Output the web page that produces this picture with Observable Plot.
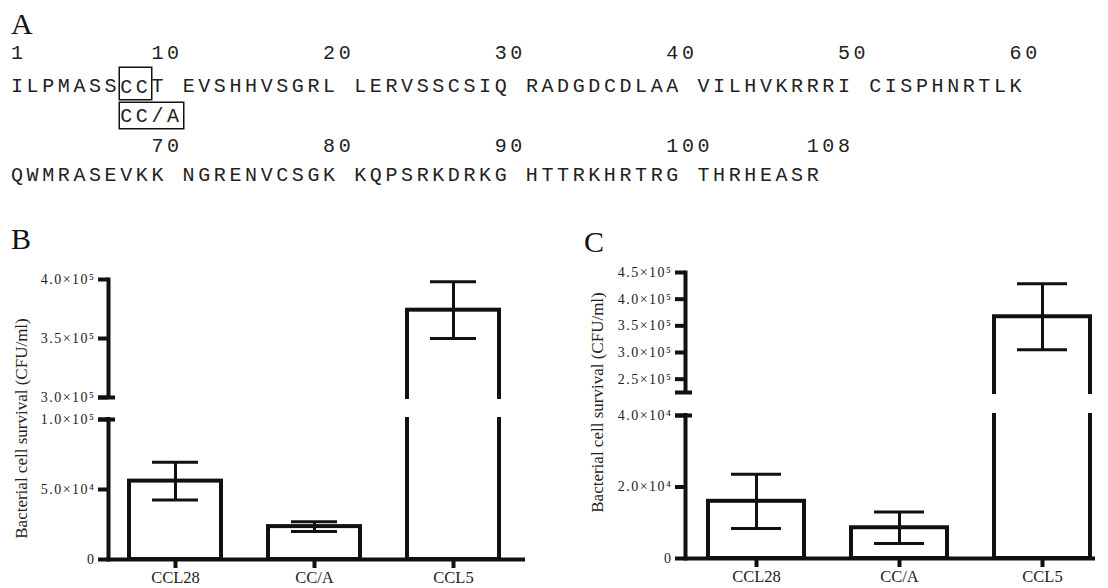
<!DOCTYPE html>
<html>
<head>
<meta charset="utf-8">
<script src="https://cdn.jsdelivr.net/npm/d3@7"></script>
<script src="https://cdn.jsdelivr.net/npm/@observablehq/plot@0.6"></script>
<style>
html, body { margin: 0; padding: 0; background: #fff; }
#fig { position: relative; width: 1108px; height: 588px; overflow: hidden; background: #fff; }
.letter { position: absolute; z-index: 5; font-family: "Liberation Serif", "Times New Roman", serif; font-size: 30px; line-height: 30px; color: #111; }
.seq { position: absolute; left: 11px; font-family: "Liberation Mono", "Courier New", monospace; font-size: 20px; line-height: 20px; letter-spacing: 3.6px; white-space: pre; color: #222; }
.box { box-shadow: 0 0 0 1.5px #111; }
.panel { position: absolute; top: 230px; z-index: 1; }
.panel svg { overflow: visible; }
.panel g[aria-label="y-axis tick label"] { letter-spacing: 1.5px; }
</style>
</head>
<body>
<div id="fig">
  <div id="seqrows"></div>
  <div class="panel" id="panelB" style="left:0px;"></div>
  <div class="panel" id="panelC" style="left:560px;"></div>
  <div class="letter" style="left:11px;top:9px;">A</div>
  <div class="letter" style="left:11px;top:224px;">B</div>
  <div class="letter" style="left:584px;top:227px;">C</div>
</div>
<script>
// ---------- Panel A data ----------
const residueRows = [
  ["ILPMASSCCT", "EVSHHVSGRL", "LERVSSCSIQ", "RADGDCDLAA", "VILHVKRRRI", "CISPHNRTLK"],
  ["QWMRASEVKK", "NGRENVCSGK", "KQPSRKDRKG", "HTTRKHRTRG", "THRHEASR"]
];
const rowStarts = [1, 61];
const positionLabels = [[1, 10, 20, 30, 40, 50, 60], [70, 80, 90, 100, 108]];
const mutatedResidues = [8, 9];
const mutantLabel = "CC/A";

// ---------- Panels B and C data ----------
const categories = ["CCL28", "CC/A", "CCL5"];
const survivalB = [5.6e4, 2.35e4, 3.74e5];
const semB = [1.35e4, 3.5e3, 2.4e4];
const survivalC = [1.6e4, 8.6e3, 3.67e5];
const semC = [7.6e3, 4.4e3, 6.2e4];
const ticksB = [0, 5e4, 1e5, 3e5, 3.5e5, 4e5];
const ticksC = [0, 2e4, 4e4, 2.5e5, 3e5, 3.5e5, 4e5, 4.5e5];
const breakB = [1e5, 3e5];
const breakC = [4e4, 2.25e5];
const domainB = [0, 1e5, 3e5, 4e5];
const domainC = [0, 4e4, 2.25e5, 4.5e5];
const yLabel = "Bacterial cell survival (CFU/ml)";

// ---------- Panel A rendering ----------
const rowTops = [[44, 77], [137, 166]];
const mutantTop = 107;
function cellOf(n, start) { const p = n - start; return p + Math.floor(p / 10); }
const seqHost = document.getElementById("seqrows");
residueRows.forEach((groups, r) => {
  const text = groups.join(" ");
  const chars = Array.from({length: text.length + 4}, () => " ");
  positionLabels[r].forEach(n => {
    const c = cellOf(n, rowStarts[r]);
    String(n).split("").forEach((ch, k) => chars[c + k] = ch);
  });
  const numDiv = document.createElement("div");
  numDiv.className = "seq";
  numDiv.style.top = rowTops[r][0] + "px";
  numDiv.textContent = chars.join("").replace(/\s+$/, "");
  seqHost.appendChild(numDiv);

  const seqDiv = document.createElement("div");
  seqDiv.className = "seq";
  seqDiv.style.top = rowTops[r][1] + "px";
  const inRow = mutatedResidues.filter(n => n >= rowStarts[r] && n < rowStarts[r] + 60);
  if (inRow.length) {
    const a = cellOf(inRow[0], rowStarts[r]);
    const b = cellOf(inRow[inRow.length - 1], rowStarts[r]) + 1;
    seqDiv.append(text.slice(0, a));
    const sp = document.createElement("span");
    sp.className = "box";
    sp.style.paddingTop = "7.5px";
    sp.style.paddingBottom = "0.5px";
    sp.textContent = text.slice(a, b);
    seqDiv.append(sp, text.slice(b));

    const mDiv = document.createElement("div");
    mDiv.className = "seq";
    mDiv.style.top = mutantTop + "px";
    mDiv.append(" ".repeat(a));
    const ms = document.createElement("span");
    ms.className = "box";
    ms.style.paddingTop = "2px";
    ms.textContent = mutantLabel;
    mDiv.append(ms);
    seqHost.appendChild(seqDiv);
    seqHost.appendChild(mDiv);
  } else {
    seqDiv.textContent = text;
    seqHost.appendChild(seqDiv);
  }
});

// ---------- Panels B/C rendering ----------
const sup = {"0":"⁰","1":"¹","2":"²","3":"³","4":"⁴","5":"⁵","6":"⁶","7":"⁷","8":"⁸","9":"⁹"};
function sci(v) {
  if (v === 0) return "0";
  const e = Math.floor(Math.log10(v));
  const m = v / Math.pow(10, e);
  return m.toFixed(1) + "×10" + String(e).split("").map(d => sup[d]).join("");
}

function panel({means, sems, ticks, breaks, domain, range, width, height, marginLeft, marginRight, marginTop, marginBottom, paddingInner, paddingOuter, align, labelDx, labelDy}) {
  const rows = categories.map((c, i) => ({cat: c, mean: means[i], lo: means[i] - sems[i], hi: means[i] + sems[i]}));
  const ink = "#111";
  return Plot.plot({
    width, height, marginLeft, marginRight, marginTop, marginBottom,
    style: {fontFamily: '"Liberation Serif", "Times New Roman", serif', color: "#222", background: "white"},
    x: {type: "band", domain: categories, paddingInner, paddingOuter, align},
    y: {type: "linear", domain, range},
    marks: [
      Plot.barY(rows, {x: "cat", y: "mean", fill: "white", stroke: ink, strokeWidth: 4}),
      Plot.ruleX(rows, {x: "cat", y1: "lo", y2: "hi", stroke: ink, strokeWidth: 3}),
      Plot.tickY(rows, {x: "cat", y: "lo", insetLeft: 23, insetRight: 23, stroke: ink, strokeWidth: 3}),
      Plot.tickY(rows, {x: "cat", y: "hi", insetLeft: 23, insetRight: 23, stroke: ink, strokeWidth: 3}),
      Plot.frame({anchor: "left", stroke: ink, strokeWidth: 4}),
      Plot.ruleY([0], {stroke: ink, strokeWidth: 4}),
      Plot.rect([breaks], {y1: d => d[0], y2: d => d[1], fill: "white", insetTop: 2, insetBottom: 2, insetLeft: -8}),
      Plot.axisY(ticks, {tickSize: 10, tickPadding: 3, stroke: ink, strokeWidth: 4, fontSize: 14, tickFormat: sci, label: null}),
      Plot.axisY(breaks, {tickSize: 17, dx: 7, stroke: ink, strokeWidth: 4, tickFormat: () => "", label: null}),
      Plot.axisX({tickSize: 9, tickPadding: 3, stroke: ink, strokeWidth: 4, fontSize: 16.5, label: null}),
      Plot.text([yLabel], {frameAnchor: "left", textAnchor: "middle", rotate: -90, dx: labelDx, dy: labelDy, fontSize: 17, fill: "#222"})
    ]
  });
}

document.getElementById("panelB").appendChild(panel({
  means: survivalB, sems: semB, ticks: ticksB, breaks: breakB, domain: domainB,
  range: [329, 189, 167, 49],
  width: 545, height: 358, marginLeft: 108, marginRight: 20, marginTop: 49, marginBottom: 29,
  paddingInner: 0.335, paddingOuter: 0.157, align: 0.45, labelDx: -87, labelDy: 9
}));
document.getElementById("panelC").appendChild(panel({
  means: survivalC, sems: semC, ticks: ticksC, breaks: breakC, domain: domainC,
  range: [328, 185, 162, 42],
  width: 548, height: 358, marginLeft: 125, marginRight: 13, marginTop: 42, marginBottom: 30,
  paddingInner: 0.33, paddingOuter: 0.094, align: 0.81, labelDx: -88, labelDy: -13
}));
</script>
</body>
</html>
